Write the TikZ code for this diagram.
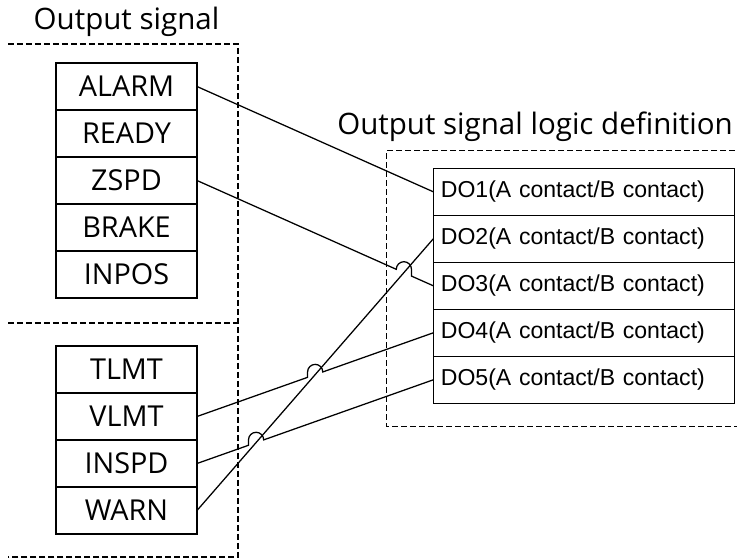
\documentclass[tikz,border=0pt]{standalone}
\usepackage{fontspec}
\setmainfont{Open Sans}
\newfontfamily\arialfont{Liberation Sans}
\usetikzlibrary{positioning,calc}
\newcommand{\hop}{0.19cm}
% wire from #1 to #2 that jumps over the wire #3--#4
\newcommand{\hopline}[4]{%
  \draw[wire] let \p1=(intersection of #1--#2 and #3--#4), \p2=(#1), \p3=(#2),
      \n1={(\y3-\y2)/(\x3-\x2)}, \n2={abs(\n1)} in
    (#1) -- (\x1-\hop,\y1-\n1*\hop) -- (\x1-\hop,\y1+\n2*\hop)
    arc[start angle=180,end angle=0,radius=\hop] -- (\x1+\hop,\y1+\n1*\hop) -- (#2);}

\begin{document}
\begin{tikzpicture}[node distance=0pt,
  sig/.style={draw,line width=1pt,minimum width=3.525cm,minimum height=1.175cm,outer sep=0pt,inner sep=0pt,font=\fontsize{20.5}{24}\selectfont},
  dout/.style={draw,line width=1pt,minimum height=1.175cm,outer sep=0pt,inner ysep=0pt,inner xsep=0.19cm,text width=7.145cm,align=left,font=\arialfont\fontsize{16.4}{19}\selectfont},
  grp/.style={draw,line width=0.85pt,dash pattern=on 4.3pt off 2.1pt},
  wire/.style={draw,line width=0.9pt},
  ttl/.style={font=\fontsize{21}{25}\selectfont}]
  \useasboundingbox (0,0) rectangle (18.425,-13.95);

  % signal groups
  \draw[grp] (0.2,-1.1) -- (5.95,-1.1) -- (5.95,-13.925) -- (0.2,-13.925);
  \draw[grp] (0.2,-8.075) -- (5.95,-8.075);
  \draw[grp] (18.6,-3.7675) -- (9.6675,-3.7675) -- (9.6675,-10.6675) -- (18.6,-10.6675);
  \node[ttl] at (3.1625,-0.55) (t1) {Output signal};
  \node[ttl] at (13.375,-3.175) (t2) {Output signal logic definition};

  % output signals
  \node[sig] at (3.1625,-2.1625) (alarm) {ALARM};
  \node[sig,below=of alarm] (ready) {READY};
  \node[sig,below=of ready] (zspd) {ZSPD};
  \node[sig,below=of zspd] (brake) {BRAKE};
  \node[sig,below=of brake] (inpos) {INPOS};
  \node[sig] at (3.1625,-9.2375) (tlmt) {TLMT};
  \node[sig,below=of tlmt] (vlmt) {VLMT};
  \node[sig,below=of vlmt] (inspd) {INSPD};
  \node[sig,below=of inspd] (warn) {WARN};

  % logic definition
  \node[dout] at (14.595,-4.795) (do1) {DO1(A contact/B contact)};
  \node[dout,below=of do1] (do2) {DO2(A contact/B contact)};
  \node[dout,below=of do2] (do3) {DO3(A contact/B contact)};
  \node[dout,below=of do3] (do4) {DO4(A contact/B contact)};
  \node[dout,below=of do4] (do5) {DO5(A contact/B contact)};

  % wiring
  \draw[wire] (alarm.east) -- (do1.west);
  \draw[wire] (warn.east) -- (do2.west);
  \hopline{zspd.east}{do3.west}{warn.east}{do2.west}
  \hopline{vlmt.east}{do4.west}{warn.east}{do2.west}
  \hopline{inspd.east}{do5.west}{warn.east}{do2.west}
\end{tikzpicture}
\end{document}
